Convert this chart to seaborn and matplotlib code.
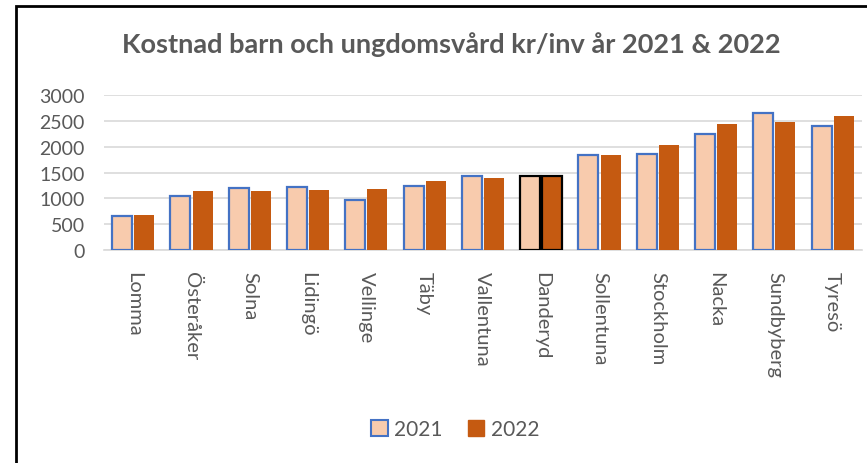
import pandas as pd
import matplotlib.pyplot as plt
import seaborn as sns
from matplotlib.patches import Patch, Rectangle

# municipalities and cost per inhabitant (kr/inv)
kommuner = ['Lomma', 'Österåker', 'Solna', 'Lidingö', 'Vellinge', 'Täby',
            'Vallentuna', 'Danderyd', 'Sollentuna', 'Stockholm', 'Nacka',
            'Sundbyberg', 'Tyresö']
kostnad_2021 = [650, 1040, 1200, 1220, 970, 1230, 1440, 1430, 1840, 1850, 2240, 2650, 2410]
kostnad_2022 = [680, 1140, 1150, 1170, 1180, 1330, 1400, 1430, 1830, 2030, 2430, 2480, 2600]
years = ['2021', '2022']
y_ticks = [0, 500, 1000, 1500, 2000, 2500, 3000]

df = pd.DataFrame({
    'Kommun': kommuner * 2,
    'År': [years[0]] * len(kommuner) + [years[1]] * len(kommuner),
    'Kostnad': kostnad_2021 + kostnad_2022,
})

sns.set_style('white')
plt.rcParams['font.family'] = ['Lato', 'DejaVu Sans']

fig = plt.figure(figsize=(8.67, 4.64), dpi=100)
ax = fig.add_axes([0.12, 0.459, 0.874, 0.334])

sns.barplot(data=df, x='Kommun', y='Kostnad', hue='År',
            palette={'2021': '#F8CBAD', '2022': '#C55A11'}, saturation=1,
            width=0.76, gap=0.1, ax=ax, legend=False, zorder=3)

# outlines: blue for 2021, black for the highlighted municipality
for bar, name in zip(ax.containers[0], kommuner):
    bar.set_edgecolor('black' if name == 'Danderyd' else '#4472C4')
    bar.set_linewidth(1.6)
for bar, name in zip(ax.containers[1], kommuner):
    if name == 'Danderyd':
        bar.set_edgecolor('black')
        bar.set_linewidth(1.6)
    else:
        bar.set_linewidth(0)

ax.set_ylim(0, 3000)
ax.set_xlim(-0.5, len(kommuner) - 0.5)
ax.set_yticks(y_ticks)
ax.yaxis.grid(True, color='#D9D9D9', linewidth=1.2, zorder=0)
for s in ['top', 'right', 'left']:
    ax.spines[s].set_visible(False)
ax.spines['bottom'].set_color('#D9D9D9')
ax.spines['bottom'].set_linewidth(1.2)
ax.tick_params(axis='y', labelsize=14, colors='#595959', length=0, pad=14)
ax.tick_params(axis='x', labelsize=14.5, colors='#595959', length=0, pad=15)
plt.setp(ax.get_xticklabels(), rotation=270, va='top', ha='center')
ax.set_xlabel('')
ax.set_ylabel('')

fig.text(0.52, 0.903, 'Kostnad barn och ungdomsvård kr/inv år 2021 & 2022',
         ha='center', va='center', fontsize=19.5, fontweight='bold', color='#595959')

handles = [Patch(facecolor='#F8CBAD', edgecolor='#4472C4', linewidth=1.5, label='2021'),
           Patch(facecolor='#C55A11', edgecolor='#C55A11', label='2022')]
fig.legend(handles=handles, loc='center', bbox_to_anchor=(0.525, 0.073), ncol=2,
           frameon=False, fontsize=15, handlelength=0.8, handleheight=0.8,
           handletextpad=0.3, columnspacing=1.2, labelcolor='#595959')

# chart frame (cropped at right and bottom)
fig.patches.append(Rectangle((16 / 867, -0.1), 1.2, 1.1 - 7 / 464, transform=fig.transFigure,
                             fill=False, edgecolor='black', linewidth=2))

fig.savefig('out.png', dpi=100)
